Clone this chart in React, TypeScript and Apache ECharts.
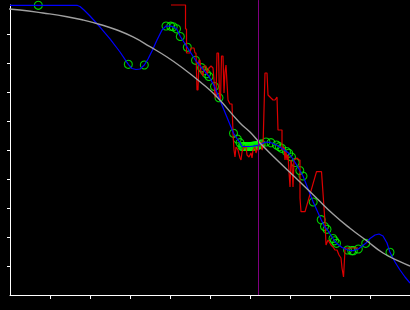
import React, { useEffect, useRef } from "react";
import * as echarts from "echarts";

// Axis ticks (no labels in the reference)
const xTicks = [1, 2, 3, 4, 5, 6, 7, 8, 9];
const yTicks = [1, 2, 3, 4, 5, 6, 7, 8, 9];

// Observed samples (green rings)
const obsX = [
  0.708, 2.958, 3.358, 3.9, 4.018, 4.08, 4.163, 4.258, 4.433, 4.638, 4.788, 4.85, 4.913, 4.975,
  5.113, 5.225, 5.588, 5.683, 5.75,
  5.8, 5.83, 5.86, 5.89, 5.92, 5.95, 5.98, 6.01, 6.04, 6.07, 6.1, 6.13, 6.16, 6.19, 6.22, 6.25, 6.28,
  6.4, 6.525, 6.663, 6.733, 6.793, 6.913, 6.968, 7.038, 7.13, 7.245, 7.325, 7.58, 7.78, 7.863,
  7.925, 8.075, 8.113, 8.163, 8.438, 8.543, 8.583, 8.708, 8.893, 9.5,
];
const obsY = [
  9.99, 7.955, 7.931, 9.276, 9.269, 9.248, 9.179, 8.914, 8.541, 8.093, 7.838, 7.734, 7.631, 7.534,
  7.19, 6.803, 5.576, 5.379, 5.252,
  5.12, 5.12, 5.12, 5.12, 5.12, 5.12, 5.12, 5.12, 5.13, 5.13, 5.14, 5.14, 5.15, 5.16, 5.17, 5.19, 5.21,
  5.276, 5.252, 5.172, 5.114, 5.059, 4.948, 4.886, 4.759, 4.569, 4.293, 4.103, 3.207, 2.597, 2.362,
  2.266, 1.948, 1.869, 1.783, 1.552, 1.528, 1.528, 1.586, 1.783, 1.472,
];

// Extra points of the blue interpolating curve (between / beyond the samples)
const blueExtraX = [0, 1.675, 1.75, 1.85, 2.0, 2.25, 2.5, 2.75, 3.05, 3.15, 3.25, 3.45, 3.55, 3.675, 3.8,
  8.3, 9.0, 9.125, 9.225, 9.325, 9.425, 9.625, 9.75, 9.875, 10.0];
const blueExtraY = [9.99, 9.99, 9.948, 9.828, 9.621, 9.241, 8.828, 8.379, 7.81, 7.776, 7.793, 8.138, 8.414, 8.793, 9.138,
  1.638, 1.948, 2.069, 2.103, 2.034, 1.793, 1.138, 0.862, 0.621, 0.414];

// Gray smooth trend
const grayX = [-0.25, 0.25, 0.825, 1.425, 1.825, 2.25, 2.675, 3.075, 3.5, 3.925, 4.325, 4.75, 5.175,
  5.75, 6.0, 6.25, 6.675, 7.25, 7.675, 8.075, 8.5, 8.925, 9.325, 9.75, 10.0];
const grayY = [9.886, 9.828, 9.724, 9.597, 9.483, 9.328, 9.138, 8.897, 8.562, 8.207, 7.817, 7.355, 6.828,
  5.931, 5.621, 5.241, 4.655, 3.897, 3.328, 2.793, 2.3, 1.862, 1.448, 1.148, 1.0];

// Red jagged estimate
const redX = [4.025, 4.388, 4.388, 4.413, 4.413, 4.5, 4.525, 4.6, 4.625, 4.65, 4.675, 4.7, 4.725, 4.75,
  4.775, 4.825, 4.85, 4.9, 4.925, 4.975, 5.025, 5.075, 5.1, 5.125, 5.15, 5.175, 5.213, 5.238, 5.263,
  5.288, 5.325, 5.35, 5.375, 5.4, 5.425, 5.45, 5.5, 5.55, 5.575, 5.6, 5.625, 5.65, 5.7, 5.75, 5.775,
  5.8, 5.85, 5.9, 5.925, 5.975, 6.025, 6.05, 6.075, 6.125, 6.15, 6.175, 6.225, 6.275, 6.3, 6.325,
  6.35, 6.375, 6.425, 6.45, 6.5, 6.525, 6.575, 6.625, 6.675, 6.7, 6.8, 6.8, 6.85, 6.875, 6.9, 6.925,
  6.95, 6.975, 7.0, 7.025, 7.05, 7.075, 7.1, 7.175, 7.225, 7.25, 7.25, 7.275, 7.375, 7.663, 7.788,
  7.875, 7.9, 7.95, 8.025, 8.075, 8.125, 8.175, 8.225, 8.275, 8.3, 8.338, 8.375, 8.388, 8.7];
const redY = [10.0, 10.0, 9.172, 9.172, 8.345, 8.345, 8.517, 8.517, 8.345, 8.345, 7.069, 7.069, 8.103, 8.103,
  7.69, 7.552, 7.897, 7.897, 7.621, 7.828, 7.897, 7.828, 7.414, 6.828, 6.828, 8.345, 8.345, 6.724, 6.724,
  8.241, 8.241, 6.966, 7.69, 7.931, 7.31, 6.724, 6.586, 6.586, 5.586, 5.0, 4.759, 5.103, 5.0, 4.724, 4.655,
  4.931, 5.103, 5.103, 4.828, 4.759, 4.897, 4.724, 5.0, 5.103, 4.897, 5.0, 5.172, 5.276, 5.0, 5.103,
  6.379, 7.655, 7.655, 6.897, 6.828, 6.793, 6.724, 6.724, 6.828, 5.69, 5.69, 5.0, 5.103, 4.655, 4.931, 4.655,
  4.828, 4.241, 3.724, 4.655, 4.483, 3.724, 4.655, 4.724, 4.655, 4.655, 3.345, 2.872, 2.872, 4.252, 4.252,
  2.528, 1.724, 1.897, 1.724, 1.655, 1.552, 1.552, 1.379, 1.276, 0.931, 0.621, 1.552, 1.621, 1.621];

// Vertical purple marker position
const markerX = 6.2125;
const markerSpan = [0, 10.17];

const zip = (xs: number[], ys: number[]) => xs.map((x, i) => [x, ys[i]]);

export default function App() {
  const ref = useRef<HTMLDivElement>(null);
  useEffect(() => {
    if (!ref.current) return;
    document.body.style.background = "#000";
    const chart = echarts.init(ref.current, null, { renderer: "svg" });
    const obs = zip(obsX, obsY);
    const blue = obs.concat(zip(blueExtraX, blueExtraY)).sort((a, b) => a[0] - b[0]);
    const axisCommon = {
      type: "value" as const,
      min: 0,
      max: 10,
      interval: 1,
      splitLine: { show: false },
      axisLabel: { show: false },
      axisLine: { show: true, lineStyle: { color: "#ffffff", width: 1 } },
    };
    chart.setOption({
      animation: false,
      backgroundColor: "#000000",
      grid: { left: 10, right: 0, top: 5, bottom: 15, containLabel: false },
      xAxis: {
        ...axisCommon,
        axisTick: { show: true, customValues: xTicks, length: 4, inside: false, lineStyle: { color: "#ffffff", width: 1 } },
      },
      yAxis: {
        ...axisCommon,
        axisTick: { show: true, customValues: yTicks, length: 3, inside: false, lineStyle: { color: "#ffffff", width: 1 } },
      },
      series: [
        {
          type: "line",
          data: zip(redX, redY),
          showSymbol: false,
          silent: true,
          clip: false,
          lineStyle: { color: "#dd0000", width: 1.2 },
        },
        {
          type: "line",
          data: blue,
          showSymbol: false,
          silent: true,
          clip: false,
          lineStyle: { color: "#0000ff", width: 1.2 },
        },
        {
          type: "scatter",
          data: obs,
          symbol: "circle",
          symbolSize: 8,
          silent: true,
          clip: false,
          itemStyle: { color: "rgba(0,0,0,0)", borderColor: "#00ff00", borderWidth: 1.1 },
        },
        {
          type: "line",
          data: zip(grayX, grayY),
          smooth: true,
          showSymbol: false,
          silent: true,
          clip: false,
          lineStyle: { color: "#a0a0a0", width: 1.4 },
        },
        {
          type: "line",
          data: markerSpan.map((y) => [markerX, y]),
          showSymbol: false,
          silent: true,
          clip: false,
          lineStyle: { color: "#800080", width: 1 },
        },
      ],
    });
    return () => chart.dispose();
  }, []);
  return <div ref={ref} style={{ position: "fixed", left: 0, top: 0, width: 410, height: 310 }} />;
}
